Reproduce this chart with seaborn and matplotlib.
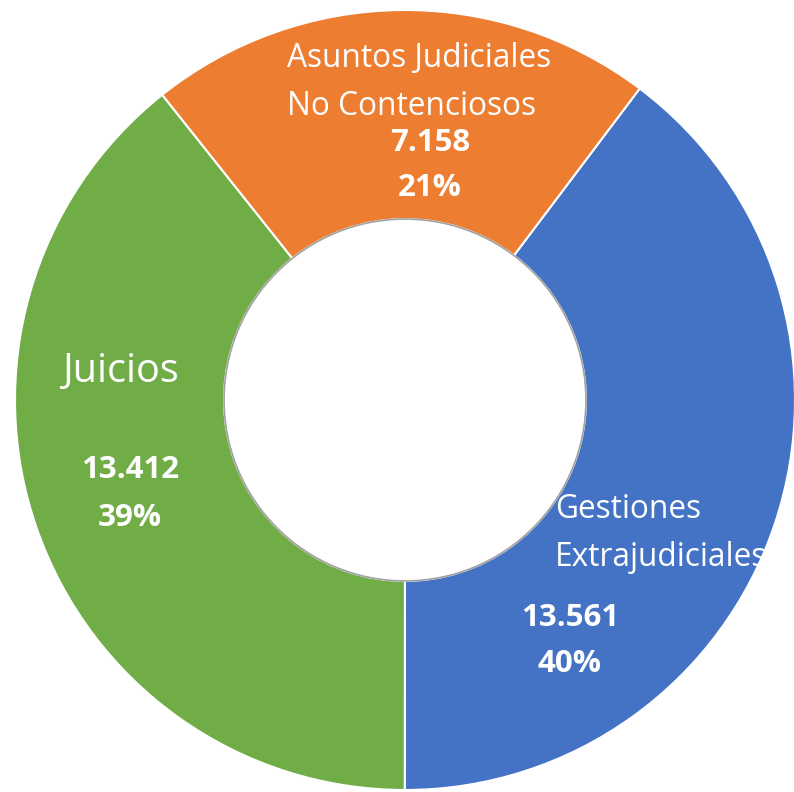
import matplotlib
matplotlib.use('Agg')
import matplotlib.pyplot as plt
import seaborn as sns

# data
categories = ['Gestiones\nExtrajudiciales', 'Juicios', 'Asuntos Judiciales\nNo Contenciosos']
values = [13561, 13412, 7158]
value_labels = ['13.561', '13.412', '7.158']
pct_labels = ['40%', '39%', '21%']
colors = ['#4472C4', '#70AD47', '#ED7D31']

sns.set_style('white')
plt.rcParams['font.family'] = ['Open Sans', 'DejaVu Sans']

fig = plt.figure(figsize=(7.94, 7.92), dpi=100)
ax = fig.add_axes([0, 0, 1, 1])

wedges, _ = ax.pie(values, colors=colors, startangle=53, counterclock=False,
                   radius=1.0, wedgeprops=dict(width=0.536, edgecolor='white', linewidth=1.5))

# faint shadow round the hole
hole = plt.Circle((0, 0), 0.464, fill=False, edgecolor='#a0a0a0', linewidth=1.2, zorder=3)
ax.add_patch(hole)

# category names
ax.text(-0.303, 0.814, categories[2], color='white', fontsize=22.8, ha='left', va='center',
        linespacing=1.6)
ax.text(-0.879, 0.072, categories[1], color='white', fontsize=28.5, ha='left', va='center')
ax.text(0.385, -0.342, categories[0], color='white', fontsize=22.8, ha='left', va='center',
        linespacing=1.6)

# numbers and shares
num_style = dict(color='white', fontsize=22.5, fontweight='bold', ha='center', va='center')
ax.text(0.064, 0.659, value_labels[2], **num_style)
ax.text(0.064, 0.544, pct_labels[2], **num_style)
ax.text(-0.705, -0.179, value_labels[1], **num_style)
ax.text(-0.705, -0.303, pct_labels[1], **num_style)
ax.text(0.423, -0.558, value_labels[0], **num_style)
ax.text(0.423, -0.677, pct_labels[0], **num_style)

ax.set_aspect('auto')
ax.set_xlim(-405 / 390, (794 - 405) / 390)
ax.set_ylim(-392 / 390, 400 / 390)
ax.axis('off')

plt.savefig('out.png', dpi=100, facecolor='white')
